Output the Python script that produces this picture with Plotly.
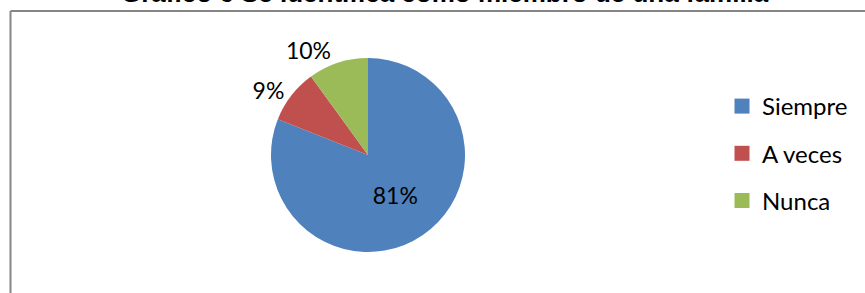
import plotly.graph_objects as go

categories = ["Siempre", "A veces", "Nunca"]
values = [81, 9, 10]
colors = ["#4F81BD", "#C0504D", "#9BBB59"]
title_text = "Gráfico 6 Se identifica como miembro de una familia"

W, H = 865, 293
FONT = "Lato"

fig = go.Figure()

fig.add_trace(go.Pie(
    labels=categories,
    values=values,
    sort=False,
    direction="clockwise",
    rotation=0,
    marker=dict(colors=colors, line=dict(color="white", width=0)),
    textinfo="percent",
    texttemplate="%{percent:.0%}",
    textposition=["inside", "outside", "outside"],
    textfont=dict(family=FONT, size=23, color="black"),
    insidetextfont=dict(family=FONT, size=23, color="black"),
    outsidetextfont=dict(family=FONT, size=23, color="black"),
    showlegend=False,
    hoverinfo="label+percent",
    domain=dict(x=[271 / W, 465 / W], y=[1 - 252 / H, 1 - 58 / H]),
))

# legend entries (one group per category for the wide Excel-style spacing)
for cat, col in zip(categories, colors):
    fig.add_trace(go.Scatter(
        x=[None], y=[None], mode="markers", name=cat, legendgroup=cat,
        marker=dict(symbol="square", size=15, color=col),
        hoverinfo="skip",
    ))

fig.update_layout(
    width=W, height=H,
    margin=dict(l=0, r=0, t=0, b=0, autoexpand=False),
    paper_bgcolor="white", plot_bgcolor="white",
    xaxis=dict(visible=False), yaxis=dict(visible=False),
    legend=dict(
        x=722 / W, y=1 - 84 / H, xanchor="left", yanchor="top",
        font=dict(family=FONT, size=24, color="black"),
        tracegroupgap=13, itemwidth=30,
        bgcolor="rgba(0,0,0,0)",
    ),
    shapes=[
        dict(type="line", xref="paper", yref="paper",
             x0=10.5 / W, x1=1.0, y0=1 - 11 / H, y1=1 - 11 / H,
             line=dict(color="#868686", width=2)),
        dict(type="line", xref="paper", yref="paper",
             x0=10.5 / W, x1=10.5 / W, y0=1 - 11 / H, y1=0,
             line=dict(color="#868686", width=2)),
    ],
    annotations=[dict(
        text="<b>" + title_text + "</b>", xref="paper", yref="paper",
        x=445 / W, y=1 - 10 / H, xanchor="center", yanchor="bottom",
        showarrow=False,
        font=dict(family="Liberation Sans", size=26, color="black"),
    )],
)

fig.write_html("out.html", config={"displayModeBar": False},
               post_script="document.body.style.margin='0px';")
